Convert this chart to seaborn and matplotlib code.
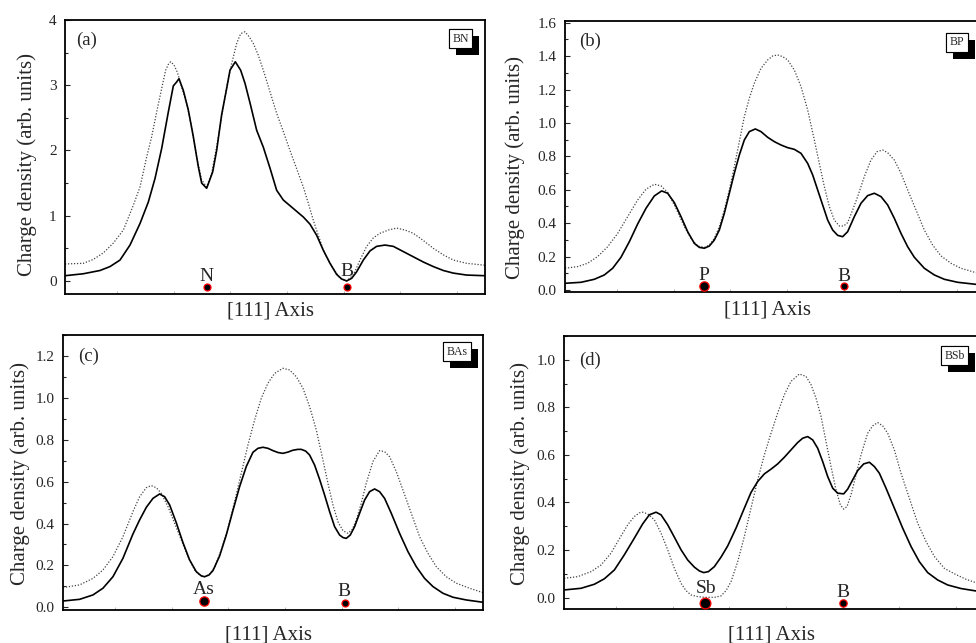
import numpy as np
import pandas as pd
import matplotlib
matplotlib.use("Agg")
import matplotlib.pyplot as plt
import matplotlib.patheffects as pe
from matplotlib.ticker import MultipleLocator, FixedLocator, FormatStrFormatter, NullFormatter
import seaborn as sns

sns.set_style("ticks")
plt.rcParams['font.family'] = ['Liberation Serif', 'DejaVu Serif']

# ---------------- data: position along [111] axis (arb. units 0..1260) and charge density ----------
bn_x_solid = [0, 55, 105, 135, 165, 195, 225, 250, 270, 290, 310, 325, 335, 342, 355, 370, 385, 400,
              410, 425, 443, 455, 470, 485, 495, 511, 527, 540, 555, 575, 595, 615, 635, 655, 685,
              715, 735, 755, 775, 795, 815, 830, 845, 860, 875, 895, 915, 935, 960, 985, 1015, 1045,
              1075, 1105, 1135, 1165, 1205, 1260]
bn_solid = [0.08, 0.11, 0.16, 0.22, 0.32, 0.55, 0.88, 1.21, 1.57, 2.03, 2.59, 2.99, 3.05, 3.10, 2.92,
            2.62, 2.21, 1.75, 1.50, 1.42, 1.67, 2.00, 2.55, 2.95, 3.23, 3.36, 3.23, 3.03, 2.73, 2.31,
            2.05, 1.73, 1.39, 1.24, 1.11, 0.98, 0.87, 0.70, 0.47, 0.27, 0.10, 0.03, 0.00, 0.04, 0.14,
            0.32, 0.46, 0.53, 0.55, 0.53, 0.45, 0.37, 0.29, 0.22, 0.16, 0.12, 0.09, 0.08]
bn_x_dot = [0, 55, 85, 115, 145, 175, 205, 225, 245, 260, 275, 290, 302, 310, 317, 327, 337, 350,
            365, 380, 395, 410, 425, 440, 455, 470, 485, 500, 515, 527, 540, 553, 565, 580, 595, 615,
            635, 655, 675, 695, 715, 730, 745, 760, 775, 790, 805, 825, 845, 865, 885, 905, 925, 945,
            970, 995, 1020, 1045, 1075, 1105, 1135, 1165, 1205, 1260]
bn_dot = [0.26, 0.27, 0.33, 0.43, 0.58, 0.78, 1.16, 1.44, 1.90, 2.21, 2.59, 2.95, 3.23, 3.32, 3.36,
          3.31, 3.20, 2.97, 2.72, 2.36, 1.90, 1.55, 1.44, 1.65, 2.06, 2.52, 2.97, 3.33, 3.64, 3.79,
          3.82, 3.74, 3.64, 3.46, 3.23, 2.90, 2.57, 2.29, 2.00, 1.72, 1.44, 1.19, 0.93, 0.70, 0.47,
          0.32, 0.19, 0.04, 0.00, 0.09, 0.32, 0.53, 0.66, 0.73, 0.78, 0.81, 0.78, 0.73, 0.62, 0.50,
          0.40, 0.32, 0.27, 0.24]

bp_x_solid = [0, 48, 88, 118, 143, 168, 193, 218, 243, 268, 290, 308, 328, 348, 368, 388, 403, 418,
              433, 448, 463, 478, 493, 508, 523, 538, 553, 571, 588, 608, 628, 648, 668, 688, 708,
              728, 743, 758, 773, 788, 803, 818, 833, 848, 868, 888, 908, 928, 948, 968, 988, 1008,
              1028, 1048, 1078, 1108, 1138, 1178, 1232, 1260]
bp_solid = [0.040, 0.046, 0.064, 0.090, 0.130, 0.196, 0.289, 0.395, 0.489, 0.563, 0.593, 0.579, 0.523,
            0.439, 0.349, 0.279, 0.255, 0.250, 0.263, 0.299, 0.359, 0.459, 0.579, 0.699, 0.808,
            0.898, 0.948, 0.964, 0.948, 0.914, 0.888, 0.868, 0.852, 0.842, 0.818, 0.758, 0.689,
            0.599, 0.509, 0.419, 0.359, 0.327, 0.319, 0.349, 0.439, 0.519, 0.565, 0.579, 0.559,
            0.509, 0.429, 0.339, 0.259, 0.196, 0.130, 0.090, 0.064, 0.046, 0.034, 0.030]
bp_x_dot = [0, 38, 68, 98, 128, 158, 188, 218, 243, 268, 288, 308, 333, 358, 378, 398, 418, 433, 448,
            463, 478, 493, 508, 523, 538, 553, 568, 588, 608, 623, 638, 653, 668, 688, 708, 728, 748,
            763, 778, 793, 808, 823, 836, 848, 863, 878, 898, 918, 936, 953, 968, 988, 1008, 1028,
            1053, 1078, 1103, 1128, 1158, 1188, 1232, 1260]
bp_dot = [0.130, 0.140, 0.160, 0.200, 0.259, 0.339, 0.439, 0.539, 0.603, 0.633, 0.623, 0.585, 0.489,
          0.379, 0.309, 0.263, 0.255, 0.269, 0.309, 0.379, 0.479, 0.599, 0.739, 0.888, 1.038, 1.148,
          1.238, 1.327, 1.377, 1.401, 1.407, 1.397, 1.377, 1.317, 1.218, 1.078, 0.898, 0.758, 0.619,
          0.499, 0.419, 0.383, 0.383, 0.403, 0.479, 0.559, 0.679, 0.778, 0.828, 0.838, 0.822, 0.778,
          0.699, 0.599, 0.479, 0.359, 0.269, 0.204, 0.160, 0.130, 0.104, 0.096]

bas_x_solid = [0, 50, 90, 120, 150, 180, 210, 230, 250, 270, 290, 305, 320, 340, 360, 380, 400, 415,
               425, 438, 450, 470, 490, 510, 530, 550, 570, 585, 600, 615, 630, 645, 660, 675, 690,
               705, 715, 728, 740, 755, 770, 785, 800, 815, 830, 840, 850, 862, 875, 890, 905, 920,
               935, 950, 965, 985, 1010, 1035, 1060, 1085, 1110, 1140, 1170, 1210, 1260]
bas_solid = [0.030, 0.038, 0.059, 0.091, 0.146, 0.234, 0.350, 0.417, 0.477, 0.520, 0.541, 0.528,
             0.489, 0.404, 0.309, 0.226, 0.170, 0.150, 0.146, 0.154, 0.175, 0.245, 0.345, 0.462,
             0.576, 0.672, 0.740, 0.759, 0.764, 0.759, 0.748, 0.739, 0.735, 0.741, 0.750, 0.754,
             0.754, 0.746, 0.727, 0.679, 0.611, 0.536, 0.457, 0.385, 0.345, 0.333, 0.329, 0.345,
             0.385, 0.449, 0.512, 0.552, 0.565, 0.552, 0.520, 0.449, 0.353, 0.266, 0.194, 0.138,
             0.099, 0.067, 0.048, 0.035, 0.024]
bas_x_dot = [0, 50, 90, 120, 150, 180, 210, 230, 250, 265, 280, 295, 315, 335, 355, 375, 395, 410,
             425, 440, 455, 475, 495, 515, 535, 555, 575, 595, 615, 635, 660, 680, 700, 720, 740,
             760, 780, 795, 810, 825, 840, 855, 868, 880, 895, 910, 930, 950, 965, 980, 1000, 1020,
             1045, 1070, 1095, 1120, 1150, 1180, 1220, 1260]
bas_dot = [0.094, 0.107, 0.138, 0.178, 0.242, 0.337, 0.457, 0.528, 0.571, 0.581, 0.571, 0.544, 0.481,
           0.401, 0.322, 0.242, 0.178, 0.154, 0.146, 0.159, 0.191, 0.274, 0.377, 0.505, 0.640,
           0.775, 0.894, 0.998, 1.070, 1.117, 1.141, 1.133, 1.101, 1.046, 0.958, 0.847, 0.703,
           0.592, 0.489, 0.409, 0.366, 0.353, 0.372, 0.417, 0.497, 0.592, 0.696, 0.748, 0.743,
           0.719, 0.648, 0.560, 0.449, 0.337, 0.258, 0.194, 0.146, 0.115, 0.091, 0.070]

bsb_x_solid = [0, 51, 91, 121, 151, 181, 211, 236, 256, 276, 291, 311, 331, 351, 371, 391, 406, 419,
               433, 451, 471, 491, 516, 541, 561, 581, 601, 621, 641, 661, 681, 701, 716, 731, 746,
               761, 776, 791, 806, 821, 839, 851, 866, 881, 899, 916, 931, 946, 966, 991, 1016, 1041,
               1066, 1091, 1121, 1151, 1191, 1235, 1260]
bsb_solid = [0.032, 0.039, 0.056, 0.079, 0.116, 0.180, 0.250, 0.310, 0.348, 0.359, 0.348, 0.306,
             0.254, 0.201, 0.158, 0.128, 0.112, 0.105, 0.109, 0.130, 0.170, 0.217, 0.292, 0.376,
             0.442, 0.488, 0.520, 0.540, 0.562, 0.590, 0.621, 0.652, 0.670, 0.677, 0.663, 0.628,
             0.572, 0.509, 0.460, 0.439, 0.436, 0.456, 0.495, 0.534, 0.562, 0.569, 0.551, 0.523,
             0.460, 0.376, 0.292, 0.215, 0.151, 0.105, 0.074, 0.053, 0.038, 0.028, 0.025]
bsb_x_dot = [0, 41, 81, 111, 141, 171, 191, 211, 226, 236, 251, 271, 291, 311, 331, 351, 366, 381,
             401, 421, 451, 471, 486, 501, 521, 541, 561, 581, 601, 621, 641, 661, 681, 706, 726,
             741, 756, 771, 786, 801, 816, 829, 839, 849, 861, 876, 891, 911, 926, 941, 956, 971,
             991, 1011, 1036, 1061, 1086, 1111, 1141, 1171, 1206, 1235, 1260]
bsb_dot = [0.081, 0.088, 0.109, 0.137, 0.187, 0.259, 0.306, 0.341, 0.356, 0.359, 0.352, 0.327,
           0.271, 0.201, 0.123, 0.060, 0.029, 0.011, 0.004, 0.001, 0.001, 0.007, 0.029, 0.067,
           0.151, 0.257, 0.376, 0.495, 0.600, 0.691, 0.776, 0.853, 0.909, 0.940, 0.930, 0.895,
           0.839, 0.762, 0.656, 0.551, 0.453, 0.390, 0.372, 0.383, 0.432, 0.516, 0.600, 0.691,
           0.722, 0.736, 0.722, 0.691, 0.621, 0.523, 0.418, 0.313, 0.236, 0.173, 0.123, 0.100,
           0.077, 0.063, 0.058]

panel_letters = ["(a)", "(b)", "(c)", "(d)"]
compounds = ["BN", "BP", "BAs", "BSb"]
atom_names = [["N", "B"], ["P", "B"], ["As", "B"], ["Sb", "B"]]
atom_x = [[425, 845], [416, 838], [422, 846], [424, 838]]
atom_y = [[-0.09, -0.09], [0.024, 0.024], [0.030, 0.019], [-0.024, -0.024]]
label_x = [[423, 845], [416, 838], [422, 843], [426, 838]]
label_y = [[0.005, 0.077], [0.060, 0.054], [0.064, 0.056], [0.018, 0.001]]

solid_x = [bn_x_solid, bp_x_solid, bas_x_solid, bsb_x_solid]
solid_y = [bn_solid, bp_solid, bas_solid, bsb_solid]
dot_x = [bn_x_dot, bp_x_dot, bas_x_dot, bsb_x_dot]
dot_y = [bn_dot, bp_dot, bas_dot, bsb_dot]

# ---------------- layout / style ----------------
atom_size = [[25, 25], [45, 25], [45, 25], [60, 28]]
fig = plt.figure(figsize=(9.76, 6.43), dpi=100)
positions = [[0.0666, 0.5428, 0.4303, 0.4261],
             [0.5789, 0.5459, 0.4303, 0.4219],
             [0.0645, 0.0513, 0.4303, 0.4277],
             [0.5779, 0.0529, 0.4303, 0.4246]]
ylims = [(-0.2, 4.0), (-0.012, 1.612), (-0.013, 1.30), (-0.048, 1.10)]
majors = [1.0, 0.2, 0.2, 0.2]
minors = [0.5, 0.1, 0.1, 0.1]
fmts = ["%d", "%.1f", "%.1f", "%.1f"]
letter_pos = [(0.026, 0.926), (0.034, 0.923), (0.037, 0.921), (0.037, 0.910)]
box_pos = [(0.942, 0.932), (0.934, 0.921), (0.939, 0.940), (0.930, 0.927)]
ylabel_pos = [(-0.067, 0.474), (-0.095, 0.459), (-0.079, 0.498), (-0.081, 0.498)]
xlabel_pos = [(0.49, -0.026), (0.481, -0.030), (0.49, -0.055), (0.495, -0.059)]
xtick_pos = [156 + 170 * k for k in range(7)]

for i in range(4):
    ax = fig.add_axes(positions[i])
    df_s = pd.DataFrame({"x": solid_x[i], "y": solid_y[i]})
    df_d = pd.DataFrame({"x": dot_x[i], "y": dot_y[i]})
    sns.lineplot(data=df_d, x="x", y="y", ax=ax, sort=False, estimator=None,
                 color="#444444", lw=0.9, linestyle=(0, (1, 1.4)))
    sns.lineplot(data=df_s, x="x", y="y", ax=ax, sort=False, estimator=None,
                 color="black", lw=1.2)
    ax.set_xlim(0, 1260)
    ax.set_ylim(*ylims[i])

    for j in range(2):
        ax.scatter([atom_x[i][j]], [atom_y[i][j]], s=atom_size[i][j], c="black",
                   edgecolors="red", linewidths=0.9, zorder=5, clip_on=False)
        ax.text(label_x[i][j], label_y[i][j], atom_names[i][j], ha="center", va="baseline",
                fontsize=14)

    ax.yaxis.set_major_locator(MultipleLocator(majors[i]))
    ax.yaxis.set_minor_locator(MultipleLocator(minors[i]))
    ax.yaxis.set_major_formatter(FormatStrFormatter(fmts[i]))
    ax.xaxis.set_major_locator(FixedLocator(xtick_pos))
    ax.xaxis.set_major_formatter(NullFormatter())
    ax.tick_params(axis="y", which="major", direction="in", length=3.6, width=0.8,
                   labelsize=11, pad=6, left=True, right=False)
    ax.tick_params(axis="y", which="minor", direction="in", length=2.2, width=0.8,
                   left=True, right=False)
    ax.tick_params(axis="x", which="major", direction="in", length=2.0, width=0.6,
                   color="#aaaaaa", bottom=True, top=False)
    for sp in ax.spines.values():
        sp.set_visible(True)
        sp.set_linewidth(1.3)
        sp.set_color("black")

    ax.set_ylabel("Charge density (arb. units)", fontsize=15)
    ax.set_xlabel("[111] Axis", fontsize=15)
    ax.yaxis.set_label_coords(*ylabel_pos[i])
    ax.xaxis.set_label_coords(*xlabel_pos[i])

    ax.text(letter_pos[i][0], letter_pos[i][1], panel_letters[i], transform=ax.transAxes,
            ha="left", va="center", fontsize=13.5)
    t = ax.text(box_pos[i][0], box_pos[i][1], compounds[i], transform=ax.transAxes,
                ha="center", va="center", fontsize=8.5,
                bbox=dict(boxstyle="square,pad=0.3", fc="white", ec="black", lw=0.8))
    t.get_bbox_patch().set_path_effects([
        pe.withSimplePatchShadow(offset=(5, -5), shadow_rgbFace="black", alpha=1.0),
        pe.Normal()])

fig.savefig("out.png", dpi=100)
